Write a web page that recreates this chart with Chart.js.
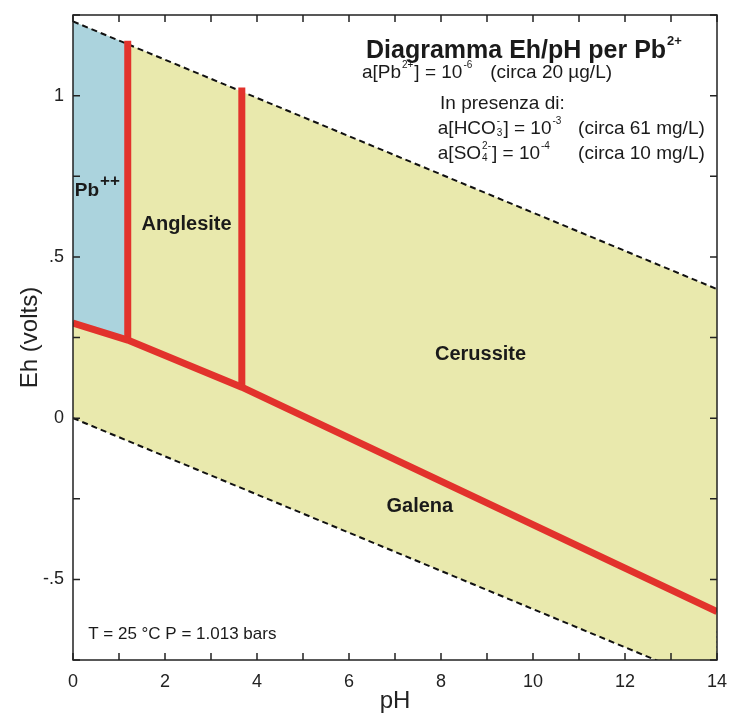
<!DOCTYPE html>
<html>
<head>
<meta charset="utf-8">
<script src="https://cdn.jsdelivr.net/npm/chart.js@4.4.1/dist/chart.umd.min.js"></script>
<style>
  body { margin: 0; background: #fff; }
  #wrap { width: 732px; height: 719px; }
</style>
</head>
<body>
<div id="wrap"><canvas id="ehph"></canvas></div>
<script>
// Diagramma Eh/pH per Pb2+
const phRange = [0, 14];
const upperWaterEh = [1.23, 0.40];     // limite superiore stabilità acqua
const lowerWaterEh = [0.0, -0.829];    // limite inferiore stabilità acqua
const boundaryPH = [0, 1.19, 3.67, 14];
const boundaryEh = [0.295, 0.242, 0.096, -0.60];
const pbRegionPH = [0, 1.19];
const pbTopEh = [1.23, 1.16];
const pbBottomEh = [0.295, 0.242];
const verticalPH = [1.19, 3.67];
const verticalTopEh = [1.17, 1.025];
const verticalBottomEh = [0.242, 0.096];
const edgeMarkEh = [-0.66, -0.75];

const xTickValues = [0, 2, 4, 6, 8, 10, 12, 14];
const yTickLabels = { '1': '1', '0.5': '.5', '0': '0', '-0.5': '-.5' };

// etichette delle regioni (coordinate pH / Eh)
const regionNames = ['Anglesite', 'Cerussite', 'Galena'];
const regionPH = [2.47, 8.86, 7.54];
const regionEh = [0.584, 0.180, -0.292];

const FONT = "'Liberation Sans', Arial, sans-serif";
const RED = '#e2322c';

const pts = (xs, ys) => xs.map((x, i) => ({ x, y: ys[i] }));

function lineDs(data, extra) {
    return Object.assign({
        data, showLine: true, pointRadius: 0, borderWidth: 0,
        borderColor: 'rgba(0,0,0,0)', fill: false, tension: 0
    }, extra);
}

// disegna testo con apici / pedici
function drawRich(ctx, x, y, parts, size, bold, supScale = 0.55) {
    const weight = bold ? 'bold ' : '';
    const small = Math.round(size * supScale);
    parts.forEach(p => {
        if (typeof p === 'string') {
            ctx.font = `${weight}${size}px ${FONT}`;
            ctx.fillText(p, x, y);
            x += ctx.measureText(p).width;
        } else {
            ctx.font = `${weight}${small}px ${FONT}`;
            let w = 0;
            if (p.sup) {
                ctx.fillText(p.sup, x + 1, y - size * 0.5);
                w = Math.max(w, ctx.measureText(p.sup).width);
            }
            if (p.sub) {
                ctx.fillText(p.sub, x + 1, y + size * 0.12);
                w = Math.max(w, ctx.measureText(p.sub).width);
            }
            x += w + 2;
        }
    });
}

const framePlugin = {
    id: 'frame',
    afterDatasetsDraw(chart) {
        const { ctx, chartArea: a, scales } = chart;
        const sx = scales.x, sy = scales.y;
        ctx.save();
        ctx.strokeStyle = '#222';
        ctx.lineWidth = 1.5;
        ctx.strokeRect(a.left, a.top, a.right - a.left, a.bottom - a.top);
        // tacche interne
        const tl = 7;
        ctx.beginPath();
        sx.ticks.forEach(t => {
            const px = sx.getPixelForValue(t.value);
            ctx.moveTo(px, a.bottom); ctx.lineTo(px, a.bottom - tl);
            ctx.moveTo(px, a.top); ctx.lineTo(px, a.top + tl);
        });
        sy.ticks.forEach(t => {
            const py = sy.getPixelForValue(t.value);
            ctx.moveTo(a.left, py); ctx.lineTo(a.left + tl, py);
            ctx.moveTo(a.right, py); ctx.lineTo(a.right - tl, py);
        });
        ctx.stroke();

        // testi
        ctx.fillStyle = '#1a1a1a';
        ctx.textBaseline = 'alphabetic';
        const X = v => sx.getPixelForValue(v);
        const Y = v => sy.getPixelForValue(v);

        ctx.textAlign = 'left';
        drawRich(ctx, X(0.04), Y(0.689), ['Pb', { sup: '++' }], 19, true, 0.9);
        ctx.textAlign = 'center';
        ctx.font = `bold 20px ${FONT}`;
        regionNames.forEach((n, i) => ctx.fillText(n, X(regionPH[i]), Y(regionEh[i])));

        ctx.textAlign = 'left';
        ctx.font = `17px ${FONT}`;
        ctx.fillText('T = 25 °C P = 1.013 bars', X(0.33), Y(-0.686));

        drawRich(ctx, X(6.37), Y(1.118), ['Diagramma Eh/pH per Pb', { sup: '2+' }], 25, true, 0.5);
        drawRich(ctx, X(6.28), Y(1.056), ['a[Pb', { sup: '2+' }, '] = 10', { sup: '-6' }], 19, false);
        drawRich(ctx, X(9.07), Y(1.056), ['(circa 20 µg/L)'], 19, false);
        drawRich(ctx, X(7.98), Y(0.957), ['In presenza di:'], 19, false);
        drawRich(ctx, X(7.93), Y(0.882), ['a[HCO', { sub: '3', sup: '-' }, '] = 10', { sup: '-3' }], 19, false);
        drawRich(ctx, X(10.98), Y(0.882), ['(circa 61 mg/L)'], 19, false);
        drawRich(ctx, X(7.93), Y(0.804), ['a[SO', { sub: '4', sup: '2-' }, '] = 10', { sup: '-4' }], 19, false);
        drawRich(ctx, X(10.98), Y(0.804), ['(circa 10 mg/L)'], 19, false);
        ctx.restore();
    }
};

new Chart(document.getElementById('ehph'), {
    type: 'scatter',
    data: {
        datasets: [
            lineDs(pts(boundaryPH, boundaryEh), { borderColor: RED, borderWidth: 7 }),
            lineDs(pts([verticalPH[0], verticalPH[0]], [verticalBottomEh[0], verticalTopEh[0]]), { borderColor: RED, borderWidth: 7 }),
            lineDs(pts([verticalPH[1], verticalPH[1]], [verticalBottomEh[1], verticalTopEh[1]]), { borderColor: RED, borderWidth: 7 }),
            lineDs(pts(pbRegionPH, pbTopEh), { fill: 4, backgroundColor: '#abd3dd' }),
            lineDs(pts(pbRegionPH, pbBottomEh)),
            lineDs(pts(phRange, upperWaterEh), { borderColor: '#111', borderWidth: 2, borderDash: [6, 4], fill: 6, backgroundColor: '#e9e9ad' }),
            lineDs(pts(phRange, lowerWaterEh), { borderColor: '#111', borderWidth: 2, borderDash: [6, 4] }),
            lineDs(pts([14, 14], edgeMarkEh), { borderColor: '#8a9aa8', borderWidth: 1.5, borderDash: [2, 3] })
        ]
    },
    options: {
        responsive: true,
        maintainAspectRatio: false,
        animation: false,
        layout: { padding: { top: 15, right: 15, left: 0, bottom: 0 } },
        plugins: {
            legend: { display: false },
            tooltip: { enabled: false },
            filler: { drawTime: 'beforeDatasetsDraw' }
        },
        scales: {
            x: {
                type: 'linear', min: 0, max: 14,
                afterFit: s => { s.height = 59; s.paddingLeft = 0; s.paddingRight = 0; },
                grid: { display: false, drawTicks: false },
                border: { display: false },
                ticks: {
                    stepSize: 1, autoSkip: false, maxRotation: 0, padding: 11,
                    color: '#222', font: { family: FONT, size: 18 },
                    callback: v => xTickValues.includes(v) ? String(v) : ''
                },
                title: { display: true, text: 'pH', color: '#222', font: { family: FONT, size: 24 }, padding: { top: 0, bottom: 3 } }
            },
            y: {
                type: 'linear', min: -0.75, max: 1.25,
                afterFit: s => { s.width = 73; s.paddingTop = 0; s.paddingBottom = 0; },
                grid: { display: false, drawTicks: false },
                border: { display: false },
                ticks: {
                    stepSize: 0.25, autoSkip: false, padding: 9,
                    color: '#222', font: { family: FONT, size: 18 },
                    callback: v => yTickLabels[String(v)] || ''
                },
                title: { display: true, text: 'Eh (volts)', color: '#222', font: { family: FONT, size: 24 }, padding: { top: 16, bottom: 0 } }
            }
        }
    },
    plugins: [framePlugin]
});
</script>
</body>
</html>
